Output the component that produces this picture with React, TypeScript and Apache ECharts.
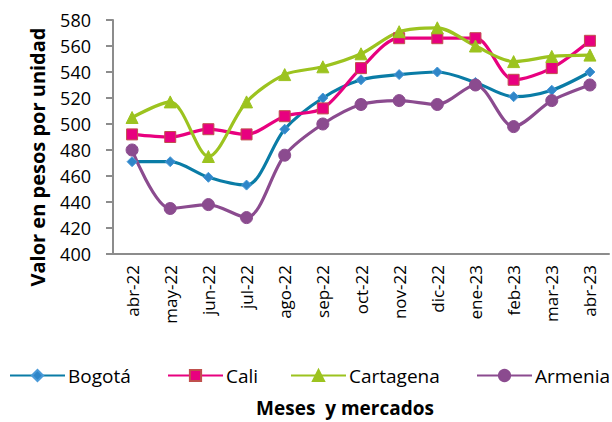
import React, { useEffect, useRef } from "react";
import * as echarts from "echarts";

const categories = ["abr-22","may-22","jun-22","jul-22","ago-22","sep-22","oct-22","nov-22","dic-22","ene-23","feb-23","mar-23","abr-23"];
const bogota = [471, 471, 459, 453, 496, 520, 534, 538, 540, 532, 521, 526, 540];
const cali = [492, 490, 496, 492, 506, 512, 543, 566, 566, 566, 534, 543, 564];
const cartagena = [505, 517, 475, 517, 538, 544, 554, 571, 574, 560, 548, 552, 553];
const armenia = [480, 435, 438, 428, 476, 500, 515, 518, 515, 530, 498, 518, 530];
const seriesNames = ["Bogotá", "Cali", "Cartagena", "Armenia"];

const FONT = "Open Sans";

export default function App() {
  const ref = useRef<HTMLDivElement>(null);
  useEffect(() => {
    const chart = echarts.init(ref.current!, null, { renderer: "svg" });
    const mk = (name: string, data: number[], color: string, symbol: string, size: number, mColor: string, mBorder: string) => ({
      name, type: "line", data, smooth: 0.3, symbol, symbolSize: size,
      lineStyle: { color, width: 3.2 },
      itemStyle: { color: mColor, borderColor: mBorder, borderWidth: 1 },
    });
    const legendLefts = [9, 167, 290, 476];
    chart.setOption({
      animation: false,
      textStyle: { fontFamily: FONT },
      grid: { left: 113, top: 20, right: 3, bottom: 168 },
      xAxis: {
        type: "category", data: categories, boundaryGap: true,
        axisLine: { lineStyle: { color: "#8c8c8c", width: 2 } },
        axisTick: { show: false },
        axisLabel: { rotate: 90, color: "#000", fontSize: 17, fontFamily: FONT, margin: 11 },
      },
      yAxis: {
        type: "value", min: 400, max: 580, interval: 20,
        splitLine: { show: false },
        axisLine: { show: true, lineStyle: { color: "#8c8c8c", width: 2 } },
        axisTick: { show: true, length: 7, lineStyle: { color: "#8c8c8c", width: 2 } },
        axisLabel: { color: "#000", fontSize: 18, fontFamily: FONT, margin: 22 },
      },
      legend: seriesNames.map((n, i) => ({
        top: 366, left: legendLefts[i], itemWidth: 55, itemHeight: 14, padding: 0,
        textStyle: { fontSize: 19, color: "#000", fontFamily: FONT, padding: [0, 0, 0, -2] },
        data: [n],
      })),
      graphic: [
        { type: "text", x: 37, y: 157, rotation: Math.PI / 2, style: { text: "Valor en pesos por unidad", fill: "#000", font: `bold 20px ${FONT}`, textAlign: "center", textVerticalAlign: "middle" } },
        { type: "text", x: 345, y: 408, style: { text: "Meses  y mercados", fill: "#000", font: `bold 19px ${FONT}`, textAlign: "center", textVerticalAlign: "middle" } },
      ],
      series: [
        mk("Bogotá", bogota, "#0a7ca6", "diamond", 10, "#2f86c8", "#4a9ad8"),
        mk("Cali", cali, "#e8007f", "rect", 11, "#e8007f", "#c0504d"),
        mk("Cartagena", cartagena, "#9cc31f", "triangle", 12, "#9cc31f", "#9cc31f"),
        mk("Armenia", armenia, "#8b4b8f", "circle", 12, "#8b4b8f", "#8b4b8f"),
      ],
    });
    return () => chart.dispose();
  }, []);
  return <div ref={ref} style={{ width: 612, height: 422, position: "absolute", left: 0, top: 0 }} />;
}
